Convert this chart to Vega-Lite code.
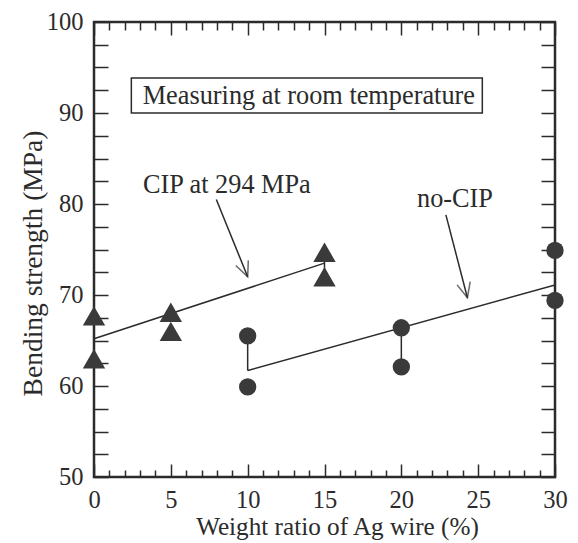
{
  "$schema": "https://vega.github.io/schema/vega-lite/v6.json",
  "width": 461,
  "height": 455,
  "autosize": "none",
  "padding": {"left": 94, "top": 22, "right": 23, "bottom": 66},
  "background": "white",
  "config": {
    "view": {"stroke": "#2b2b2b", "strokeWidth": 2.5},
    "font": "Liberation Serif",
    "axis": {"grid": false, "domain": false, "tickColor": "#2b2b2b", "tickWidth": 1.5, "labelColor": "#2b2b2b", "titleColor": "#2b2b2b", "labelFont": "Liberation Serif", "titleFont": "Liberation Serif", "titleFontWeight": "normal"}
  },
  "datasets": {
    "points": [
      {"x": 0, "y": 67.7, "series": "CIP"},
      {"x": 0, "y": 63.0, "series": "CIP"},
      {"x": 5, "y": 68.1, "series": "CIP"},
      {"x": 5, "y": 66.0, "series": "CIP"},
      {"x": 15, "y": 74.7, "series": "CIP"},
      {"x": 15, "y": 72.0, "series": "CIP"},
      {"x": 10, "y": 65.5, "series": "no-CIP"},
      {"x": 10, "y": 59.9, "series": "no-CIP"},
      {"x": 20, "y": 66.4, "series": "no-CIP"},
      {"x": 20, "y": 62.1, "series": "no-CIP"},
      {"x": 30, "y": 74.9, "series": "no-CIP"},
      {"x": 30, "y": 69.4, "series": "no-CIP"}
    ],
    "fits": [
      {"series": "CIP", "x": 0, "y": 65.2},
      {"series": "CIP", "x": 15, "y": 73.5},
      {"series": "no-CIP", "x": 10, "y": 61.7},
      {"series": "no-CIP", "x": 30, "y": 71.1}
    ],
    "vlines": [
      {"x": 10, "y": 61.7, "y2": 65.5},
      {"x": 20, "y": 62.1, "y2": 66.4},
      {"x": 15, "y": 72.0, "y2": 74.7}
    ],
    "arrows": [
      {"name": "CIP", "x": 7.96, "y": 80.5, "x2": 10.0, "y2": 72.0},
      {"name": "no-CIP", "x": 22.9, "y": 78.8, "x2": 24.3, "y2": 69.7}
    ],
    "box": [
      {"x": 2.43, "x2": 25.27, "y": 90.0, "y2": 93.85}
    ],
    "labels": [
      {"text": "Measuring at room temperature", "x": 3.17, "y": 91.0},
      {"text": "CIP at 294 MPa", "x": 3.19, "y": 81.2},
      {"text": "no-CIP", "x": 21.02, "y": 79.7}
    ]
  },
  "resolve": {"axis": {"x": "independent", "y": "independent"}},
  "layer": [
    {
      "data": {"name": "box"},
      "mark": {"type": "rect", "fill": null, "fillOpacity": 0, "stroke": "#2b2b2b", "strokeWidth": 1.5},
      "encoding": {
        "x": {"field": "x", "type": "quantitative", "scale": {"domain": [0, 30], "nice": false, "zero": false},
          "axis": {"orient": "bottom", "title": "Weight ratio of Ag wire (%)", "values": [0,1,2,3,4,5,6,7,8,9,10,11,12,13,14,15,16,17,18,19,20,21,22,23,24,25,26,27,28,29,30],
            "labelExpr": "datum.value % 5 === 0 ? datum.label : ''", "labelFontSize": 24.5, "labelPadding": 24, "labelFlush": false, "labelOverlap": false,
            "tickSize": {"condition": {"test": "datum.value % 5 === 0", "value": -13}, "value": -7},
            "titleFontSize": 25.2, "titleX": 243, "titleY": 57, "titleBaseline": "alphabetic", "titleAnchor": "middle"}},
        "x2": {"field": "x2"},
        "y": {"field": "y", "type": "quantitative", "scale": {"domain": [50, 100], "nice": false, "zero": false},
          "axis": {"orient": "left", "title": "Bending strength (MPa)", "values": [50,52.5,55,57.5,60,62.5,65,67.5,70,72.5,75,77.5,80,82.5,85,87.5,90,92.5,95,97.5,100],
            "labelExpr": "datum.value % 10 === 0 ? datum.label : ''", "labelFontSize": 24.5, "labelPadding": 25, "labelFlush": false, "labelOverlap": false,
            "tickSize": -14, "titleFontSize": 27.5, "titleX": -53, "titleY": 241, "titleAngle": -90, "titleBaseline": "alphabetic", "titleAlign": "center"}},
        "y2": {"field": "y2"}
      }
    },
    {
      "data": {"name": "fits"},
      "mark": {"type": "line", "color": "#2b2b2b", "strokeWidth": 1.5},
      "encoding": {
        "x": {"field": "x", "type": "quantitative",
          "axis": {"orient": "top", "title": null, "values": [0,1,2,3,4,5,6,7,8,9,10,11,12,13,14,15,16,17,18,19,20,21,22,23,24,25,26,27,28,29,30],
            "labels": false, "tickSize": {"condition": {"test": "datum.value % 5 === 0", "value": -13}, "value": -8}}},
        "y": {"field": "y", "type": "quantitative",
          "axis": {"orient": "right", "title": null, "values": [50,52.5,55,57.5,60,62.5,65,67.5,70,72.5,75,77.5,80,82.5,85,87.5,90,92.5,95,97.5,100],
            "labels": false, "tickSize": -14}},
        "detail": {"field": "series"}
      }
    },
    {
      "data": {"name": "vlines"},
      "mark": {"type": "rule", "color": "#2b2b2b", "strokeWidth": 1.5},
      "encoding": {
        "x": {"field": "x", "type": "quantitative", "axis": null},
        "y": {"field": "y", "type": "quantitative", "axis": null},
        "y2": {"field": "y2"}
      }
    },
    {
      "data": {"name": "arrows"},
      "mark": {"type": "rule", "color": "#2b2b2b", "strokeWidth": 1.5},
      "encoding": {
        "x": {"field": "x", "type": "quantitative", "axis": null},
        "y": {"field": "y", "type": "quantitative", "axis": null},
        "x2": {"field": "x2"},
        "y2": {"field": "y2"}
      }
    },
    {
      "data": {"name": "arrows"},
      "transform": [{"filter": "datum.name === 'CIP'"}],
      "mark": {"type": "point", "shape": "M-0.45,-1L0,0L0.45,-1", "filled": false, "stroke": "#2b2b2b", "strokeWidth": 1.5, "size": 900, "angle": 338},
      "encoding": {
        "x": {"field": "x2", "type": "quantitative", "axis": null},
        "y": {"field": "y2", "type": "quantitative", "axis": null}
      }
    },
    {
      "data": {"name": "arrows"},
      "transform": [{"filter": "datum.name === 'no-CIP'"}],
      "mark": {"type": "point", "shape": "M-0.45,-1L0,0L0.45,-1", "filled": false, "stroke": "#2b2b2b", "strokeWidth": 1.5, "size": 900, "angle": 345.5},
      "encoding": {
        "x": {"field": "x2", "type": "quantitative", "axis": null},
        "y": {"field": "y2", "type": "quantitative", "axis": null}
      }
    },
    {
      "data": {"name": "points"},
      "transform": [{"filter": "datum.series === 'CIP'"}],
      "mark": {"type": "point", "shape": "triangle-up", "filled": true, "color": "#3a3a3a", "opacity": 1, "size": 500},
      "encoding": {
        "x": {"field": "x", "type": "quantitative", "axis": null},
        "y": {"field": "y", "type": "quantitative", "axis": null}
      }
    },
    {
      "data": {"name": "points"},
      "transform": [{"filter": "datum.series === 'no-CIP'"}],
      "mark": {"type": "point", "shape": "circle", "filled": true, "color": "#3a3a3a", "opacity": 1, "size": 300},
      "encoding": {
        "x": {"field": "x", "type": "quantitative", "axis": null},
        "y": {"field": "y", "type": "quantitative", "axis": null}
      }
    },
    {
      "data": {"name": "labels"},
      "mark": {"type": "text", "align": "left", "baseline": "alphabetic", "fontSize": 26.3, "color": "#2b2b2b", "font": "Liberation Serif"},
      "encoding": {
        "x": {"field": "x", "type": "quantitative", "axis": null},
        "y": {"field": "y", "type": "quantitative", "axis": null},
        "text": {"field": "text"}
      }
    }
  ]
}
